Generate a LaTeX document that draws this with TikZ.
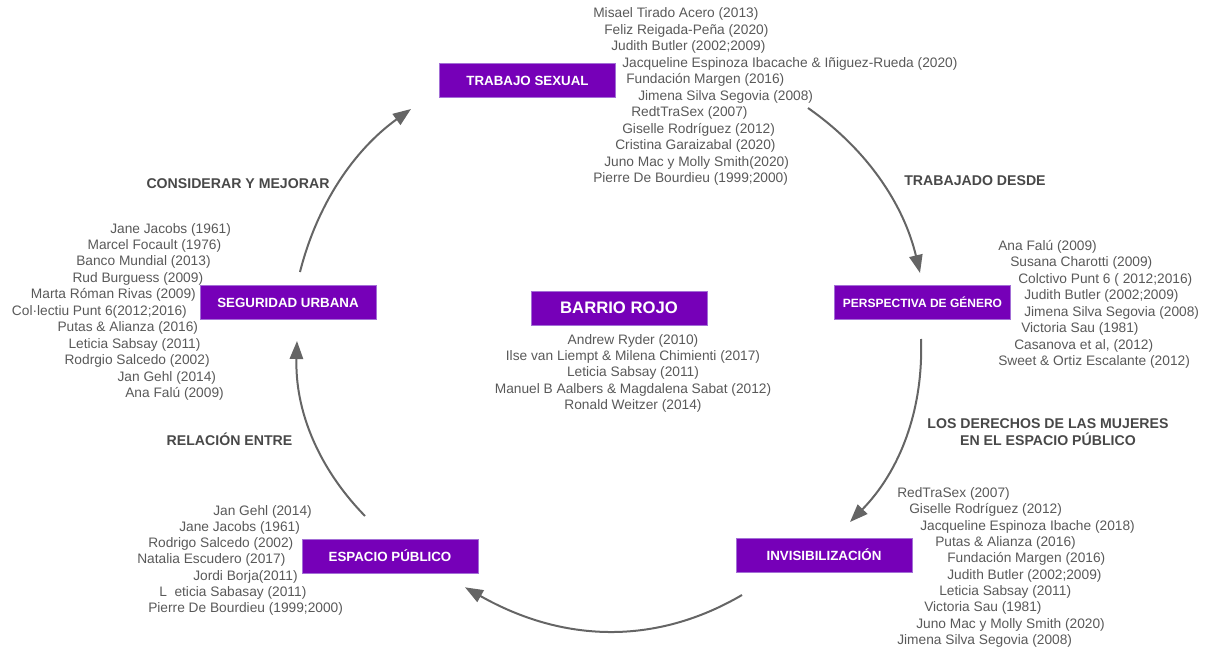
\documentclass[tikz,border=0pt]{standalone}
\usepackage{fontspec}
\setmainfont{Liberation Sans}
\usetikzlibrary{arrows.meta}
\definecolor{boxpurple}{HTML}{7600B8}
\definecolor{boxedge}{HTML}{A36FD6}
\definecolor{reftext}{HTML}{595959}
\definecolor{labtext}{HTML}{484848}
\definecolor{arrowgray}{HTML}{656565}
\begin{document}
\begin{tikzpicture}[x=0.75pt,y=-0.75pt,
  box/.style={fill=boxpurple,draw=boxedge,line width=0.5pt,minimum width=132pt,minimum height=25.5pt,inner sep=0pt,text=white,font=\fontsize{10}{12}\selectfont\bfseries},
  refl/.style={anchor=west,inner sep=0pt,text=reftext,font=\fontsize{10.3}{12}\selectfont},
  refc/.style={anchor=center,inner sep=0pt,text=reftext,font=\fontsize{10.3}{12}\selectfont},
  lab/.style={inner sep=0pt,text=labtext,font=\fontsize{10.6}{12.75}\selectfont\bfseries,align=center},
  flow/.style={draw=arrowgray,line width=1.5pt,-{Triangle[length=13.5pt,width=10pt]}}]
\useasboundingbox (0,0) rectangle (1206,650);

% boxes
\node[box] (ts) at (527.5,80.5) {TRABAJO SEXUAL};
\node[box,font=\fontsize{9}{11}\selectfont\bfseries] (pg) at (922.5,302) {PERSPECTIVA DE GÉNERO};
\node[box] (inv) at (824,555) {INVISIBILIZACIÓN};
\node[box] (ep) at (390,556) {ESPACIO PÚBLICO};
\node[box] (su) at (288,302.5) {SEGURIDAD URBANA};
\node[box,font=\fontsize{12.5}{14}\selectfont\bfseries] (br) at (619,308) {BARRIO ROJO};

% top list
\node[refl] (t1) at (593,14) {Misael Tirado Acero (2013)};
\node[refl] (t2) at (604,30.5) {Feliz Reigada-Peña (2020)};
\node[refl] (t3) at (611,47) {Judith Butler (2002;2009)};
\node[refl] (t4) at (622,63.5) {Jacqueline Espinoza Ibacache \& Iñiguez-Rueda (2020)};
\node[refl] (t5) at (626,80) {Fundación Margen (2016)};
\node[refl] (t6) at (638,96.5) {Jimena Silva Segovia (2008)};
\node[refl] (t7) at (631,113) {RedtTraSex (2007)};
\node[refl] (t8) at (622,129.5) {Giselle Rodríguez (2012)};
\node[refl] (t9) at (615,146) {Cristina Garaizabal (2020)};
\node[refl] (t10) at (604,162.5) {Juno Mac y Molly Smith(2020)};
\node[refl] (t11) at (593,179) {Pierre De Bourdieu (1999;2000)};

% right list
\node[refl] (p1) at (998,246.5) {Ana Falú (2009)};
\node[refl] (p2) at (1010,263) {Susana Charotti (2009)};
\node[refl] (p3) at (1018,279.5) {Colctivo Punt 6 ( 2012;2016)};
\node[refl] (p4) at (1024,296) {Judith Butler (2002;2009)};
\node[refl] (p5) at (1024,312.5) {Jimena Silva Segovia (2008)};
\node[refl] (p6) at (1021,329) {Victoria Sau (1981)};
\node[refl] (p7) at (1014,345.5) {Casanova et al, (2012)};
\node[refl] (p8) at (998,362) {Sweet \& Ortiz Escalante (2012)};

% left list
\node[refl] (s1) at (110,229.5) {Jane Jacobs (1961)};
\node[refl] (s2) at (87.3,246) {Marcel Focault (1976)};
\node[refl] (s3) at (76,262.4) {Banco Mundial (2013)};
\node[refl] (s4) at (72.3,278.9) {Rud Burguess (2009)};
\node[refl] (s5) at (30.7,295.3) {Marta Róman Rivas (2009)};
\node[refl] (s6) at (11.7,311.8) {Col·lectiu Punt 6(2012;2016)};
\node[refl] (s7) at (57.3,328.2) {Putas \& Alianza (2016)};
\node[refl] (s8) at (68.3,344.7) {Leticia Sabsay (2011)};
\node[refl] (s9) at (64.3,361.1) {Rodrgio Salcedo (2002)};
\node[refl] (s10) at (117.3,377.6) {Jan Gehl (2014)};
\node[refl] (s11) at (125,394) {Ana Falú (2009)};

% center list
\node[refc] (c1) at (633,340.5) {Andrew Ryder (2010)};
\node[refc] (c2) at (633,356.9) {Ilse van Liempt \& Milena Chimienti (2017)};
\node[refc] (c3) at (633,373.3) {Leticia Sabsay (2011)};
\node[refc] (c4) at (633,389.7) {Manuel B Aalbers \& Magdalena Sabat (2012)};
\node[refc] (c5) at (633,406.1) {Ronald Weitzer (2014)};

% bottom right list
\node[refl] (i1) at (897,494) {RedTraSex (2007)};
\node[refl] (i2) at (909,510.3) {Giselle Rodríguez (2012)};
\node[refl] (i3) at (920,526.7) {Jacqueline Espinoza Ibache (2018)};
\node[refl] (i4) at (935,543) {Putas \& Alianza (2016)};
\node[refl] (i5) at (947,559.3) {Fundación Margen (2016)};
\node[refl] (i6) at (947,575.7) {Judith Butler (2002;2009)};
\node[refl] (i7) at (939,592) {Leticia Sabsay (2011)};
\node[refl] (i8) at (924,608.3) {Victoria Sau (1981)};
\node[refl] (i9) at (916,624.7) {Juno Mac y Molly Smith (2020)};
\node[refl] (i10) at (897,641) {Jimena Silva Segovia (2008)};

% bottom left list
\node[refl] (e1) at (213,511.5) {Jan Gehl (2014)};
\node[refl] (e2) at (179,527.8) {Jane Jacobs (1961)};
\node[refl] (e3) at (148,544.1) {Rodrigo Salcedo (2002)};
\node[refl] (e4) at (137,560.4) {Natalia Escudero (2017)};
\node[refl] (e5) at (193,576.7) {Jordi Borja(2011)};
\node[refl] (e6) at (159,593) {L\ \ eticia Sabasay (2011)};
\node[refl] (e7) at (148,609.3) {Pierre De Bourdieu (1999;2000)};

% labels
\node[lab] (l1) at (238,184) {CONSIDERAR Y MEJORAR};
\node[lab] (l2) at (975,181) {TRABAJADO DESDE};
\node[lab] (l3) at (1048,432) {LOS DERECHOS DE LAS MUJERES\\EN EL ESPACIO PÚBLICO};
\node[lab] (l4) at (229.5,439) {RELACIÓN ENTRE};

% arrow end points
\coordinate (a1s) at (300,272);
\coordinate (a1e) at (411,109);
\coordinate (a2s) at (808,108);
\coordinate (a2e) at (920,273);
\coordinate (a3s) at (921,339);
\coordinate (a3e) at (850,522);
\coordinate (a4s) at (742,595);
\coordinate (a4e) at (465,587.3);
\coordinate (a5s) at (365,516);
\coordinate (a5e) at (297,341);

\draw[flow] (a1s) .. controls (317.1,204.2) and (354.1,149.9) .. (a1e);
\draw[flow] (a2s) .. controls (866.3,148.7) and (903.6,203.7) .. (a2e);
\draw[flow] (a3s) .. controls (923.5,410.1) and (899.8,471.1) .. (a3e);
\draw[flow] (a4s) .. controls (655.7,645.5) and (563.3,642.9) .. (a4e);
\draw[flow] (a5s) .. controls (317.5,467.3) and (294.9,409.6) .. (a5e);
\end{tikzpicture}
\end{document}
